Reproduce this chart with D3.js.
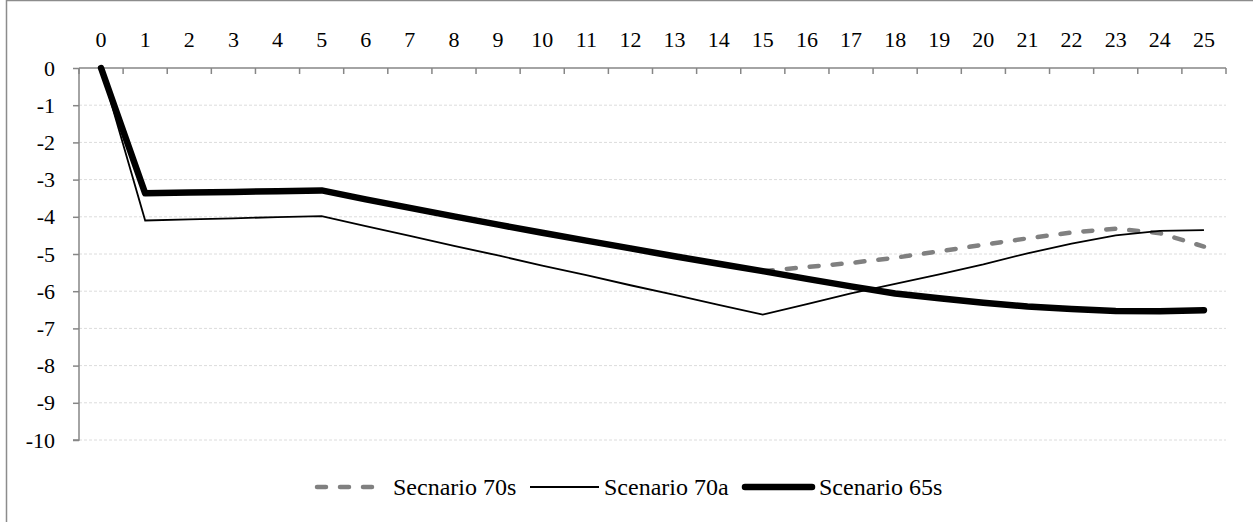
<!DOCTYPE html>
<html>
<head>
<meta charset="utf-8">
<script src="https://cdn.jsdelivr.net/npm/d3@7/dist/d3.min.js"></script>
<style>
  html, body { margin: 0; padding: 0; background: #fff; }
  svg { display: block; }
  svg text { font-family: "Liberation Serif", "Times New Roman", Tinos, "DejaVu Serif", "Noto Serif", serif !important; fill: #000; }
</style>
</head>
<body>
<svg id="chart" width="1253" height="522"></svg>
<script>
// ---- Data ----
const categories = d3.range(0, 26);
const yTicks = [0, -1, -2, -3, -4, -5, -6, -7, -8, -9, -10];
const seriesNames = ["Secnario 70s", "Scenario 70a", "Scenario 65s"];
const scenario70s = [0, -3.37, -3.35, -3.33, -3.31, -3.29, -3.53, -3.76, -3.99, -4.21, -4.43, -4.64, -4.85, -5.06, -5.26, -5.46, -5.35, -5.24, -5.10, -4.93, -4.75, -4.58, -4.42, -4.32, -4.44, -4.80];
const scenario70a = [0, -4.10, -4.07, -4.04, -4.01, -3.98, -4.25, -4.51, -4.78, -5.04, -5.31, -5.57, -5.84, -6.10, -6.37, -6.63, -6.35, -6.06, -5.80, -5.55, -5.28, -4.98, -4.72, -4.50, -4.38, -4.36];
const scenario65s = [0, -3.37, -3.35, -3.33, -3.31, -3.29, -3.53, -3.76, -3.99, -4.21, -4.43, -4.64, -4.85, -5.06, -5.26, -5.46, -5.67, -5.87, -6.06, -6.19, -6.31, -6.41, -6.48, -6.53, -6.54, -6.51];

const FONT = '"Liberation Serif", "Times New Roman", Tinos, "DejaVu Serif", "Noto Serif", serif';
const svg = d3.select("#chart");
const W = 1253, H = 522;
const plot = { left: 79, right: 1226, top: 68, bottom: 440 };

// outer frame
svg.append("rect").attr("x", 6.5).attr("y", 0.5).attr("width", W + 20).attr("height", H + 20)
  .attr("fill", "none").attr("stroke", "#8c8c8c").attr("stroke-width", 1.5);

const x = d3.scaleBand().domain(categories).range([plot.left, plot.right]).paddingInner(0).paddingOuter(0);
const y = d3.scaleLinear().domain([-10, 0]).range([plot.bottom, plot.top]);
const cx = d => x(d) + x.bandwidth() / 2;

// gridlines
svg.append("g").selectAll("line").data(yTicks.filter(t => t !== 0)).join("line")
  .attr("x1", plot.left).attr("x2", plot.right)
  .attr("y1", d => y(d)).attr("y2", d => y(d))
  .attr("stroke", "#dcdcdc").attr("stroke-width", 1).attr("stroke-dasharray", "3,2");

// y axis
const yAxis = d3.axisLeft(y).tickValues(yTicks).tickSize(6).tickPadding(18).tickFormat(d3.format("d"));
const gy = svg.append("g").attr("transform", `translate(${plot.left},0)`).call(yAxis)
  .attr("font-family", FONT);
gy.select(".domain").attr("stroke", "#868686").attr("stroke-width", 1.5).attr("d", `M-6,${y(-10)}H0V${y(0)}`);
gy.selectAll(".tick line").attr("stroke", "#868686").attr("stroke-width", 1.5);
gy.selectAll(".tick text").attr("font-size", 22).style("font-family", FONT).attr("fill", "#000")
  .text(d => d === 0 ? "0" : "-" + Math.abs(d));

// x axis at top (value 0), ticks between categories pointing down
const gx = svg.append("g").attr("transform", `translate(0,${y(0)})`);
gx.append("line").attr("x1", plot.left).attr("x2", plot.right).attr("y1", 0).attr("y2", 0)
  .attr("stroke", "#868686").attr("stroke-width", 1.5);
const boundaries = categories.map(c => x(c)).concat([x(categories[categories.length - 1]) + x.bandwidth()]);
gx.selectAll("line.tk").data(boundaries).join("line").attr("class", "tk")
  .attr("x1", d => d).attr("x2", d => d).attr("y1", 0).attr("y2", 6)
  .attr("stroke", "#868686").attr("stroke-width", 1.5);
gx.selectAll("text").data(categories).join("text")
  .attr("x", d => cx(d)).attr("y", -21).attr("text-anchor", "middle")
  .attr("font-size", 22).style("font-family", FONT).text(d => d);

// lines
const line = d3.line().x((d, i) => cx(categories[i])).y(d => y(d));
svg.append("path").datum(scenario70s).attr("d", line).attr("fill", "none")
  .attr("stroke", "#808080").attr("stroke-width", 4.5).attr("stroke-dasharray", "9,14")
  .attr("stroke-linecap", "round").attr("stroke-linejoin", "round");
svg.append("path").datum(scenario70a).attr("d", line).attr("fill", "none")
  .attr("stroke", "#000").attr("stroke-width", 1.8).attr("stroke-linejoin", "miter");
svg.append("path").datum(scenario65s).attr("d", line).attr("fill", "none")
  .attr("stroke", "#000").attr("stroke-width", 6.5)
  .attr("stroke-linecap", "round").attr("stroke-linejoin", "round");

// legend
const legY = 487;
const legendItems = [
  { name: seriesNames[0], x0: 317, x1: 376, color: "#808080", w: 4.5, dash: "9,14", cap: "round", tx: 393 },
  { name: seriesNames[1], x0: 530, x1: 599, color: "#000", w: 1.8, dash: null, cap: "butt", tx: 604 },
  { name: seriesNames[2], x0: 745, x1: 812, color: "#000", w: 6.5, dash: null, cap: "round", tx: 819 }
];
const lg = svg.append("g");
legendItems.forEach(it => {
  const l = lg.append("line").attr("x1", it.x0).attr("x2", it.x1).attr("y1", legY).attr("y2", legY)
    .attr("stroke", it.color).attr("stroke-width", it.w).attr("stroke-linecap", it.cap);
  if (it.dash) l.attr("stroke-dasharray", it.dash);
  lg.append("text").attr("x", it.tx).attr("y", legY + 8).attr("font-size", 24)
    .style("font-family", FONT).text(it.name);
});
</script>
</body>
</html>
